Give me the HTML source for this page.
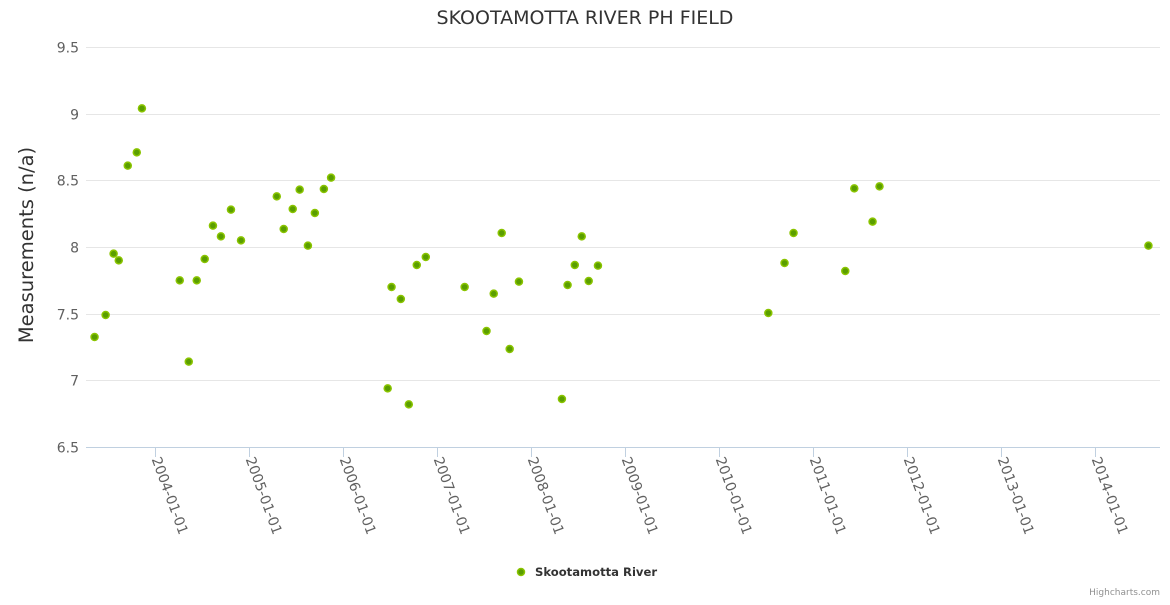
<!DOCTYPE html>
<html><head><meta charset="utf-8"><style>
body{margin:0;background:#fff;}
svg{font-family:"DejaVu Sans","Liberation Sans",sans-serif;}
</style></head><body>
<svg id="chart" width="1170" height="600">
<rect width="1170" height="600" fill="#fff"/>
<text x="585" y="24" text-anchor="middle" font-size="19" fill="#333">SKOOTAMOTTA RIVER PH FIELD</text>
<text transform="translate(33,245) rotate(-90)" text-anchor="middle" font-size="19.5" fill="#333">Measurements (n/a)</text>
<g id="grid"></g><g id="xaxis"></g><g id="pts"></g>
<g>
<circle cx="521" cy="572" r="3.5" fill="#5a9e00" stroke="#8ac400" stroke-width="1.5"/>
<text x="535" y="576" font-size="11.6" font-weight="bold" fill="#333">Skootamotta River</text>
</g>
<text x="1160" y="595" text-anchor="end" font-size="9" fill="#909090">Highcharts.com</text>
</svg>
<script>
const dates=["2003-05-10","2003-06-22","2003-07-23","2003-08-12","2003-09-16","2003-10-21","2003-11-10","2004-04-05","2004-05-10","2004-06-10","2004-07-11","2004-08-12","2004-09-12","2004-10-21","2004-11-29","2005-04-17","2005-05-14","2005-06-18","2005-07-15","2005-08-16","2005-09-12","2005-10-17","2005-11-14","2006-06-22","2006-07-07","2006-08-12","2006-09-12","2006-10-13","2006-11-17","2007-04-17","2007-07-11","2007-08-08","2007-09-08","2007-10-09","2007-11-14","2008-04-29","2008-05-21","2008-06-18","2008-07-15","2008-08-11","2008-09-16","2010-07-10","2010-09-11","2010-10-16","2011-05-05","2011-06-09","2011-08-19","2011-09-15","2014-07-26"];
const values=[7.325,7.49,7.95,7.9,8.61,8.71,9.04,7.75,7.14,7.75,7.91,8.16,8.08,8.28,8.05,8.38,8.135,8.285,8.43,8.01,8.255,8.435,8.52,6.94,7.70,7.61,6.82,7.865,7.925,7.70,7.37,7.65,8.105,7.235,7.74,6.86,7.715,7.865,8.08,7.745,7.86,7.505,7.88,8.105,7.82,8.44,8.19,8.455,8.01];
const yTicks=[6.5,7,7.5,8,8.5,9,9.5];
const yLabels=["6.5","7","7.5","8","8.5","9","9.5"];
const xTicks=["2004-01-01","2005-01-01","2006-01-01","2007-01-01","2008-01-01","2009-01-01","2010-01-01","2011-01-01","2012-01-01","2013-01-01","2014-01-01"];
const NS="http://www.w3.org/2000/svg";
const L=86,R=1160,T=47,B=447;
const t0=Date.parse("2004-01-01"),pxPerDay=94/365.25;
function xs(d){return 155.3+(Date.parse(d)-t0)/86400000*pxPerDay;}
function ys(v){return B-(v-6.5)/3*(B-T);}
function mk(tag,attrs,parent){const e=document.createElementNS(NS,tag);for(const k in attrs)e.setAttribute(k,attrs[k]);parent.appendChild(e);return e;}
const grid=document.getElementById('grid');
yTicks.forEach((v,i)=>{
 const y=Math.round(ys(v))+0.5;
 if(i>0){const g=mk('line',{x1:L,x2:R,y1:y,y2:y,stroke:'#e6e6e6'},grid);
 
 }
 const t=mk('text',{x:79,y:y+5,'text-anchor':'end','font-size':14,fill:'#606060'},grid);
 
 
 t.textContent=yLabels[i];
});
const xa=document.getElementById('xaxis');
const axl=mk('line',{x1:L,x2:R,y1:447.5,y2:447.5,stroke:'#c0d0e0'},xa);


xTicks.forEach(d=>{
 const x=Math.round(xs(d))+0.5;
 const tk=mk('line',{x1:x,x2:x,y1:447,y2:457,stroke:'#c0d0e0'},xa);
 
 
 const t=mk('text',{transform:`translate(${x-4},${459}) rotate(70)`,'font-size':14,fill:'#606060'},xa);
 
 
 t.textContent=d;
});
const pts=document.getElementById('pts');
dates.forEach((d,i)=>{
 const c=mk('circle',{cx:xs(d),cy:ys(values[i]),r:3.5,fill:'#5a9e00',stroke:'#8ac400','stroke-width':1.5},pts);
 
 
});
</script>
</body></html>
